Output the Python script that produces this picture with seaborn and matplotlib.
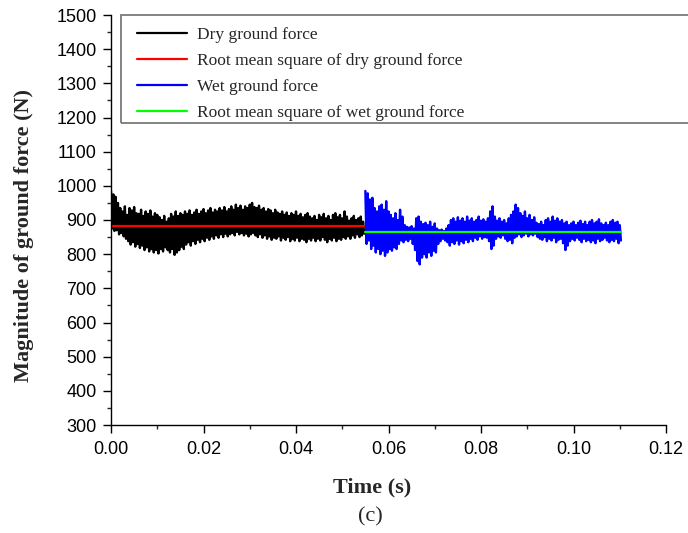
import numpy as np
import pandas as pd
import matplotlib
matplotlib.use("Agg")
import matplotlib.pyplot as plt
import seaborn as sns
from matplotlib.lines import Line2D
from matplotlib.patches import Rectangle
from matplotlib.ticker import MultipleLocator

# ---------------- data ----------------
dt = 0.0005  # spacing of the read peak/trough pairs (s)
dry_start = 0.0
wet_start = 0.055

dry_peaks = [985, 975, 968, 950, 935, 925, 940, 915, 935, 928, 938, 920, 918, 930, 912, 925,
             918, 928, 910, 920, 915, 908, 900, 912, 895, 905, 918, 910, 925, 912, 920, 915,
             925, 918, 928, 915, 922, 930, 918, 925, 932, 920, 928, 935, 922, 930, 925, 935,
             928, 938, 925, 932, 940, 930, 945, 935, 942, 930, 940, 935, 945, 950, 938, 935,
             942, 930, 935, 925, 932, 928, 920, 930, 922, 918, 925, 915, 922, 912, 920, 915,
             925, 912, 918, 908, 915, 920, 910, 905, 912, 900, 915, 908, 918, 905, 912, 900,
             915, 920, 908, 915, 905, 925, 910, 898, 905, 912, 900, 905, 910, 895]
dry_troughs = [875, 868, 870, 858, 862, 852, 845, 838, 828, 835, 822, 830, 818, 825, 812, 820,
               808, 815, 805, 812, 802, 815, 808, 820, 812, 805, 815, 798, 805, 812, 822, 815,
               828, 835, 825, 838, 830, 842, 835, 845, 838, 848, 842, 852, 845, 855, 848, 858,
               850, 860, 852, 858, 862, 855, 865, 858, 862, 855, 860, 852, 858, 862, 855, 850,
               858, 848, 855, 845, 852, 842, 848, 845, 852, 840, 848, 842, 850, 838, 845, 840,
               848, 838, 845, 842, 835, 845, 840, 848, 838, 845, 840, 850, 842, 835, 845, 840,
               848, 838, 845, 842, 850, 845, 852, 845, 855, 848, 858, 850, 855, 860]
wet_peaks = [985, 978, 960, 965, 935, 925, 940, 945, 930, 955, 925, 915, 905, 920, 900, 930,
             910, 885, 880, 878, 882, 875, 905, 910, 895, 888, 892, 885, 895, 880, 890, 875,
             870, 872, 868, 875, 885, 900, 905, 895, 908, 898, 905, 895, 910, 898, 905, 895,
             900, 910, 898, 902, 895, 905, 925, 940, 910, 898, 905, 895, 900, 890, 905, 915,
             925, 945, 935, 920, 912, 925, 905, 915, 900, 908, 892, 888, 895, 885, 900, 905,
             895, 910, 898, 905, 895, 900, 890, 895, 885, 890, 895, 885, 892, 898, 888, 895,
             885, 895, 900, 890, 895, 902, 890, 885, 892, 885, 895, 900, 892, 895, 885]
wet_troughs = [830, 840, 815, 825, 805, 815, 800, 810, 795, 805, 815, 810, 820, 815, 830, 840,
               835, 842, 838, 845, 830, 812, 780, 770, 790, 800, 790, 805, 795, 810, 805, 830,
               838, 845, 840, 835, 825, 835, 830, 840, 828, 838, 832, 842, 835, 845, 838, 848,
               842, 852, 845, 850, 848, 838, 815, 825, 845, 852, 848, 855, 845, 838, 842, 832,
               848, 852, 858, 850, 855, 860, 852, 858, 855, 860, 850, 845, 842, 850, 838, 845,
               840, 848, 835, 842, 845, 832, 812, 825, 838, 845, 840, 848, 842, 835, 845, 838,
               842, 835, 840, 832, 845, 838, 842, 848, 840, 835, 842, 838, 845, 832, 840]

dry_rms = 883
wet_rms = 866
dry_end = 0.0547
wet_end = 0.1102

labels = ["Dry ground force", "Root mean square of dry ground force",
          "Wet ground force", "Root mean square of wet ground force"]
colors = ["#000000", "#ff0000", "#0000ff", "#00ff00"]

x_ticks = [0.00, 0.02, 0.04, 0.06, 0.08, 0.10, 0.12]
y_ticks = list(range(300, 1501, 100))


def signal_frame(start, peaks, troughs):
    t, f = [], []
    for i, (p, q) in enumerate(zip(peaks, troughs)):
        t += [start + i * dt, start + i * dt + dt / 2]
        f += [p, q]
    return pd.DataFrame({"t": t, "force": f})


dry_df = signal_frame(dry_start, dry_peaks, dry_troughs)
wet_df = signal_frame(wet_start, wet_peaks, wet_troughs)
dry_rms_df = pd.DataFrame({"t": [dry_start, dry_end], "force": [dry_rms, dry_rms]})
wet_rms_df = pd.DataFrame({"t": [wet_start, wet_end], "force": [wet_rms, wet_rms]})

# ---------------- style ----------------
sns.set_style("ticks")
plt.rcParams["font.family"] = ["Liberation Sans", "DejaVu Sans"]

W, H = 688, 533
fig = plt.figure(figsize=(W / 100, H / 100), dpi=100)
ax = fig.add_axes([111 / W, 1 - 425 / H, 555 / W, 410 / H])

kw = dict(x="t", y="force", ax=ax, estimator=None, sort=False, legend=False)
sns.lineplot(data=dry_df, color=colors[0], lw=1.7, **kw)
sns.lineplot(data=dry_rms_df, color=colors[1], lw=1.6, **kw)
sns.lineplot(data=wet_df, color=colors[2], lw=1.7, **kw)
sns.lineplot(data=wet_rms_df, color=colors[3], lw=1.6, **kw)

ax.set_xlim(0, 0.12)
ax.set_ylim(300, 1500)
ax.set_xticks(x_ticks)
ax.set_xticklabels([f"{v:.2f}" for v in x_ticks])
ax.set_yticks(y_ticks)
ax.xaxis.set_minor_locator(MultipleLocator(0.01))
ax.yaxis.set_minor_locator(MultipleLocator(50))
ax.tick_params(which="major", direction="out", length=5.8, width=1, labelsize=13,
               colors="#000000")
ax.tick_params(axis="x", which="major", pad=5.5)
ax.tick_params(axis="y", which="major", pad=4.5)
ax.tick_params(which="minor", direction="out", length=3, width=1)
for s in ["top", "right"]:
    ax.spines[s].set_visible(False)
for s in ["left", "bottom"]:
    ax.spines[s].set_linewidth(1)
    ax.spines[s].set_color("#000000")

serif = ["Liberation Serif", "DejaVu Serif"]
ax.set_xlabel("Time (s)", fontsize=16, fontweight="bold", family=serif)
ax.xaxis.set_label_coords((372 - 111) / 555, -0.128)
ax.set_ylabel("Magnitude of ground force (N)", fontsize=16, fontweight="bold", family=serif)
ax.yaxis.set_label_coords((34 - 111) / 555, (425 - 236) / 410)
fig.text(370 / W, 1 - 517 / H, "(c)", fontsize=16, family=serif, ha="center", va="center")

# legend frame (extends past the right edge like the original)
fig.patches.append(Rectangle((121 / W, 1 - 123 / H), 600 / W, 108 / H,
                             transform=fig.transFigure, fill=False,
                             edgecolor="#7a7a7a", lw=1.3, zorder=5))

handles = [Line2D([], [], color=c, lw=1.6) for c in colors]
leg = ax.legend(handles, labels, loc="upper left",
                bbox_to_anchor=(123 / W, 1 - 13 / H),
                bbox_transform=fig.transFigure, borderaxespad=0,
                prop={"family": serif, "size": 12.5}, handlelength=2.9,
                handletextpad=0.55, labelspacing=0.57, borderpad=0.8,
                frameon=False)

fig.savefig("out.png", dpi=100)
